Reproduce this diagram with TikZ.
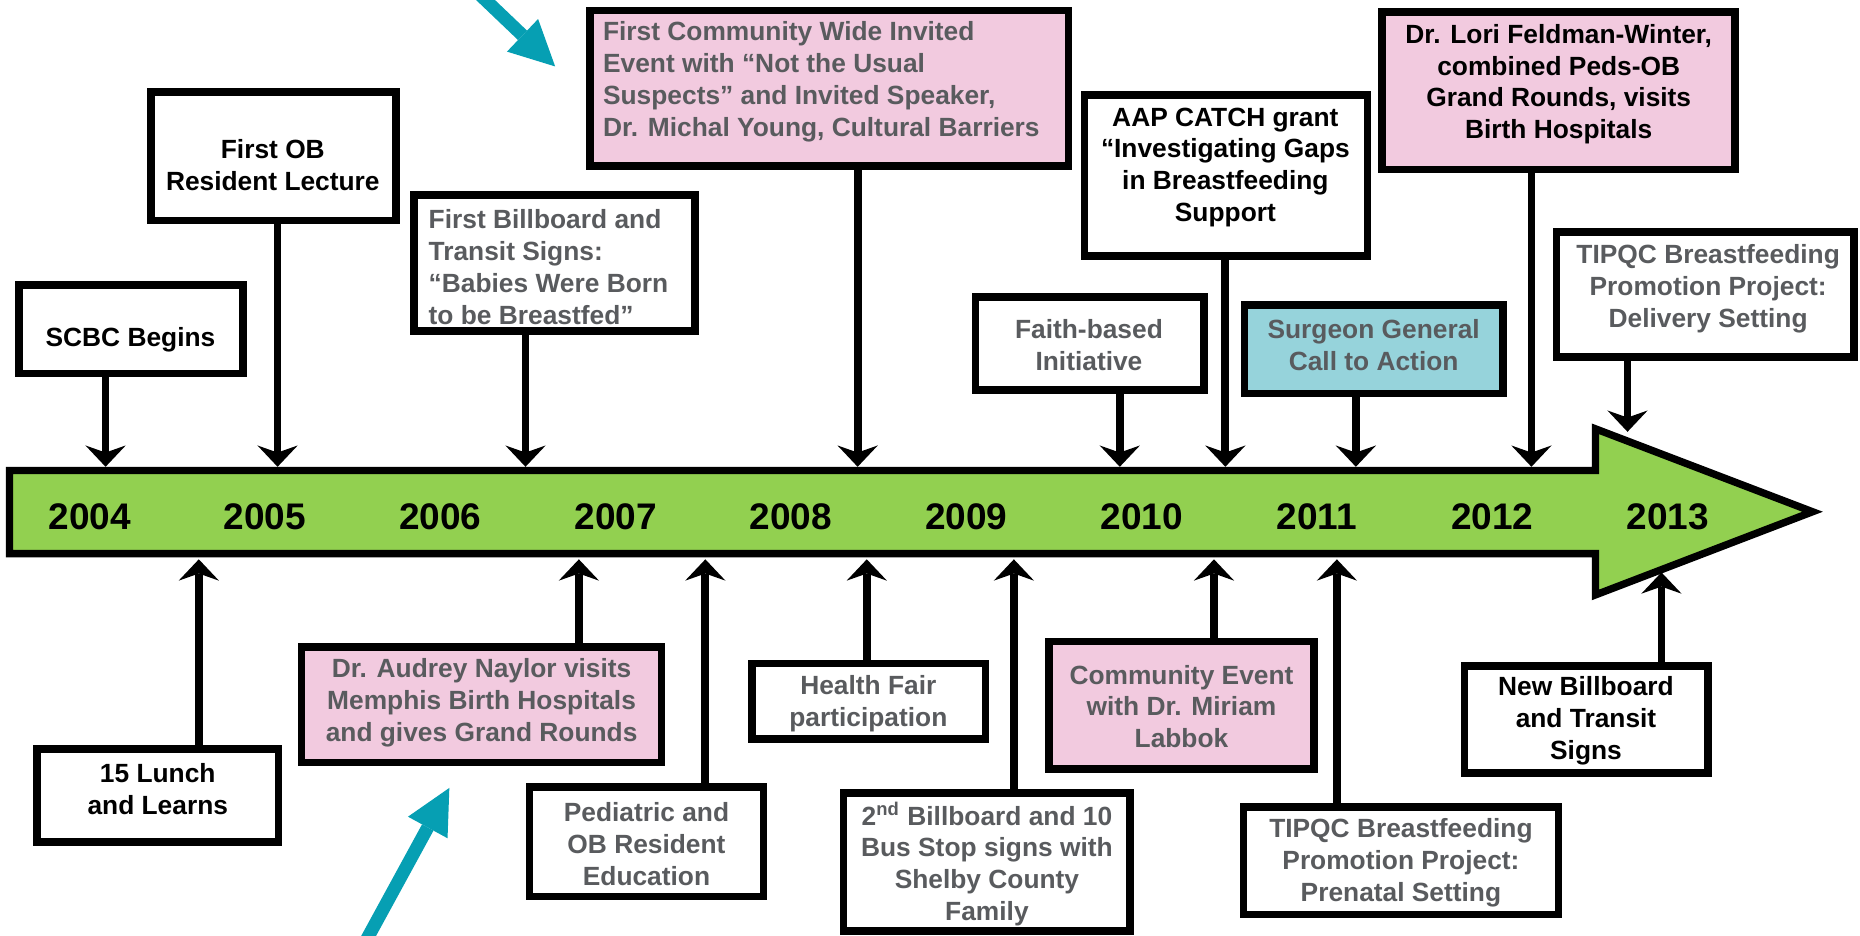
\documentclass[tikz,border=0pt]{standalone}
\usepackage{fontspec}
\setmainfont{Liberation Sans}
\usetikzlibrary{arrows.meta}
\definecolor{axgreen}{HTML}{92D050}
\definecolor{evpink}{HTML}{F2CADF}
\definecolor{evteal}{HTML}{96D3DB}
\definecolor{evgray}{HTML}{595B5E}
\definecolor{ptrteal}{HTML}{069FB3}
\newcommand{\evbox}[6]{%
  \pgfmathsetmacro{\evbw}{(#5-#3-6.4)*0.5}%
  \pgfmathsetmacro{\evbh}{(#6-#4-6.4)*0.5}%
  \node[evb,#2,minimum width=\evbw pt,minimum height=\evbh pt] (#1) at ({(#3+#5)/2},{(#4+#6)/2}) {};}
\begin{document}
\begin{tikzpicture}[x=0.5pt,y=-0.5pt,
  evb/.style={draw=black,line width=3.2pt,inner sep=0pt,fill=white},
  pinkbox/.style={fill=evpink},
  tealbox/.style={fill=evteal},
  plainbox/.style={fill=white},
  tx/.style={inner sep=0pt,font=\bfseries\fontsize{11.1}{13.4}\selectfont,align=center},
  gr/.style={text=evgray},
  bk/.style={text=black},
  yr/.style={inner sep=0pt,font=\bfseries\fontsize{15.6}{18}\selectfont},
  conn/.style={line width=3.3pt,-{Stealth[length=9pt,width=17pt,inset=3pt,line width=0pt]}},
  tealptr/.style={draw=ptrteal,line width=5.5pt,-{Triangle[length=19pt,width=19pt,line width=0pt]}}
]
\useasboundingbox (0,0) rectangle (1568,789);
\clip (0,0) rectangle (1568,789);

% timeline arrow
\draw[line width=3.1pt,fill=axgreen,line join=miter,miter limit=10]
  (8,396.6) -- (1345,396.6) -- (1345,361.5) -- (1528,431.4) -- (1345,501.5)
  -- (1345,466.7) -- (8,466.7) -- cycle;

\node[yr] (y2004) at (75.6,435.6) {2004};
\node[yr] (y2005) at (223.4,435.6) {2005};
\node[yr] (y2006) at (371.2,435.6) {2006};
\node[yr] (y2007) at (519,435.6) {2007};
\node[yr] (y2008) at (666.8,435.6) {2008};
\node[yr] (y2009) at (814.6,435.6) {2009};
\node[yr] (y2010) at (962.4,435.6) {2010};
\node[yr] (y2011) at (1110.2,435.6) {2011};
\node[yr] (y2012) at (1258,435.6) {2012};
\node[yr] (y2013) at (1405.8,435.6) {2013};

% top boxes
\evbox{scbc}{plainbox}{13}{237}{208}{318}
\evbox{ob}{plainbox}{124}{74.5}{337}{189}
\evbox{billa}{plainbox}{346}{161}{589}{282}
\evbox{comm}{pinkbox}{494}{5.6}{904}{143}
\evbox{aap}{plainbox}{911}{77}{1156}{219}
\evbox{faith}{plainbox}{819}{247}{1018}{332}
\evbox{surg}{tealbox}{1046}{254}{1270}{335}
\evbox{lori}{pinkbox}{1162}{7}{1466}{146}
\evbox{tipd}{plainbox}{1309}{192.5}{1566}{304}
% bottom boxes
\evbox{lunch}{plainbox}{28}{628}{238}{713}
\evbox{naylor}{pinkbox}{251}{542}{561}{646}
\evbox{ped}{plainbox}{443}{660.4}{646.7}{759}
\evbox{health}{plainbox}{630.7}{556}{834}{626}
\evbox{billb}{plainbox}{708}{665.5}{956}{788}
\evbox{cev}{pinkbox}{881}{537.6}{1111}{651.4}
\evbox{tipp}{plainbox}{1045}{677}{1317}{774}
\evbox{newb}{plainbox}{1231.5}{558}{1443}{655}

% texts
\node[tx,bk] (scbc-t) at (110,286) {SCBC Begins};
\node[tx,bk] (ob-t) at (230,139) {First OB\\Resident Lecture};
\node[tx,gr,align=left,anchor=west] (billa-t) at (361,225) {First Billboard and\\Transit Signs:\\“Babies Were Born\\to be Breastfed”};
\node[tx,gr,align=left,anchor=west] (comm-t) at (508,69) {First Community Wide Invited\\Event with “Not the Usual\\Suspects” and Invited Speaker,\\Dr. Michal Young, Cultural Barriers};
\node[tx,bk] (aap-t) at (1033,141) {AAP CATCH grant\\“Investigating Gaps\\in Breastfeeding\\Support};
\node[tx,gr] (faith-t) at (918,291) {Faith-based\\Initiative};
\node[tx,gr] (surg-t) at (1158,291) {Surgeon General\\Call to Action};
\node[tx,bk] (lori-t) at (1314,71) {Dr. Lori Feldman-Winter,\\combined Peds-OB\\Grand Rounds, visits\\Birth Hospitals};
\node[tx,gr] (tipd-t) at (1440,243.5) {TIPQC Breastfeeding\\Promotion Project:\\Delivery Setting};
\node[tx,bk] (lunch-t) at (133,665) {15 Lunch\\and Learns};
\node[tx,gr] (naylor-t) at (406,592.5) {Dr. Audrey Naylor visits\\Memphis Birth Hospitals\\and gives Grand Rounds};
\node[tx,gr] (ped-t) at (545,711.5) {Pediatric and\\OB Resident\\Education};
\node[tx,gr] (health-t) at (732,593) {Health Fair\\participation};
\node[tx,gr] (billb-t) at (832,728.5) {2\textsuperscript{nd} Billboard and 10\\Bus Stop signs with\\Shelby County\\Family};
\node[tx,gr] (cev-t) at (996,595.5) {Community Event\\with Dr. Miriam\\Labbok};
\node[tx,gr] (tipp-t) at (1181,727.5) {TIPQC Breastfeeding\\Promotion Project:\\Prenatal Setting};
\node[tx,bk] (newb-t) at (1337,607.5) {New Billboard\\and Transit\\Signs};

% connector end points on the timeline
\coordinate (pscbc) at (89,393.5);
\coordinate (pob) at (234,393.5);
\coordinate (pbilla) at (443,393.5);
\coordinate (pcomm) at (723,393.5);
\coordinate (paap) at (1033,393.5);
\coordinate (pfaith) at (944,393.5);
\coordinate (psurg) at (1143,393.5);
\coordinate (plori) at (1291,393.5);
\coordinate (ptipd) at (1372,364);
\coordinate (plunch) at (167.6,471.5);
\coordinate (pnaylor) at (488,471.5);
\coordinate (pped) at (594.6,471.5);
\coordinate (phealth) at (730.7,471.5);
\coordinate (pbillb) at (854.7,471.5);
\coordinate (pcev) at (1023.4,471.5);
\coordinate (ptipp) at (1127,471.5);
\coordinate (pnewb) at (1400.6,482.5);

\foreach \n in {scbc,ob,billa,comm,aap,faith,surg,lori,tipd}
  \draw[conn] (\n.south -| p\n) -- (p\n);
\foreach \n in {lunch,naylor,ped,health,billb,cev,tipp,newb}
  \draw[conn] (\n.north -| p\n) -- (p\n);

% teal pointers
\coordinate (tas) at (381,-27);
\coordinate (tae) at (468,56);
\coordinate (tbs) at (302,805);
\coordinate (tbe) at (378.8,664.2);
\draw[tealptr] (tas) -- (tae);
\draw[tealptr] (tbs) -- (tbe);
\end{tikzpicture}
\end{document}
